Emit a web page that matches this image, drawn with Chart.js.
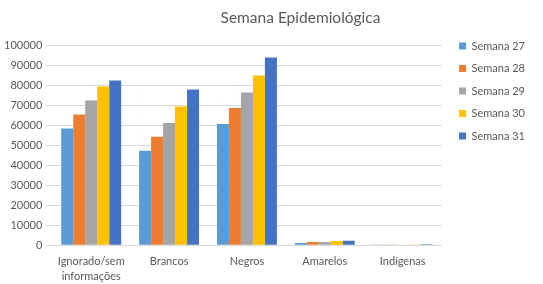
<!DOCTYPE html>
<html>
<head>
<meta charset="utf-8">
<script src="https://cdn.jsdelivr.net/npm/chart.js@4/dist/chart.umd.min.js"></script>
<style>
  html, body { margin: 0; padding: 0; background: #fff; }
  #wrap { width: 543px; height: 284px; }
</style>
</head>
<body>
<div id="wrap"><canvas id="mainGraph"></canvas></div>
<script>
var categories = [["Ignorado/sem", "informações"], "Brancos", "Negros", "Amarelos", "Indígenas"];
var seriesNames = ["Semana 27", "Semana 28", "Semana 29", "Semana 30", "Semana 31"];
var semana27 = [58500, 47300, 60800, 1200, 150];
var semana28 = [65500, 54300, 68800, 1600, 200];
var semana29 = [72500, 61300, 76500, 1700, 250];
var semana30 = [79500, 69500, 85000, 2200, 400];
var semana31 = [82500, 78000, 94000, 2300, 500];
var yTicks = [0, 10000, 20000, 30000, 40000, 50000, 60000, 70000, 80000, 90000, 100000];

var colors = ["#5b9bd5", "#ed7d31", "#a5a5a5", "#ffc000", "#4472c4"];
var allSeries = [semana27, semana28, semana29, semana30, semana31];

var datasets = [];
for (var i = 0; i < seriesNames.length; i++) {
    datasets.push({
        label: seriesNames[i],
        data: allSeries[i],
        backgroundColor: colors[i],
        borderWidth: 0,
        categoryPercentage: 0.77,
        barPercentage: 1.0
    });
}

// nudge title and legend to where the original puts them
var nudge = {
    id: 'nudge',
    afterLayout: function (chart) {
        chart.titleBlock.left += 36;
        chart.titleBlock.right += 36;
        var lg = chart.legend;
        var h = lg.bottom - lg.top;
        lg.top = 29;
        lg.bottom = 29 + h;
        lg.left += 6;
        lg.right += 6;
    }
};

Chart.defaults.font.family = "Lato, 'Open Sans', sans-serif";
Chart.defaults.color = "#595959";

var ctx = document.getElementById('mainGraph').getContext('2d');
var chart = new Chart(ctx, {
    type: 'bar',
    data: {
        labels: categories,
        datasets: datasets
    },
    plugins: [nudge],
    options: {
        responsive: true,
        maintainAspectRatio: false,
        animation: false,
        layout: { padding: { left: 0, right: 14, top: 6, bottom: -1 } },
        plugins: {
            title: {
                display: true,
                text: "Semana Epidemiológica",
                font: { size: 15.5, weight: 'normal' },
                color: "#595959",
                padding: { top: 3, bottom: 18 }
            },
            legend: {
                position: 'right',
                align: 'start',
                labels: {
                    boxWidth: 7,
                    boxHeight: 7,
                    padding: 11.5,
                    font: { size: 11 },
                    color: "#595959"
                }
            },
            tooltip: { enabled: false }
        },
        scales: {
            x: {
                grid: { display: false },
                border: { display: false },
                ticks: { font: { size: 11, lineHeight: 1.35 }, color: "#595959", maxRotation: 0, autoSkip: false, padding: 1 }
            },
            y: {
                min: 0,
                max: 100000,
                afterBuildTicks: function (axis) {
                    axis.ticks = yTicks.map(function (v) { return { value: v }; });
                },
                grid: { color: "#d9d9d9", lineWidth: 1, drawTicks: true, tickLength: 6, tickColor: "#d9d9d9" },
                border: { display: false },
                ticks: {
                    font: { size: 11 },
                    color: "#595959",
                    padding: 4,
                    callback: function (v) { return String(v); }
                }
            }
        }
    }
});
</script>
</body>
</html>
